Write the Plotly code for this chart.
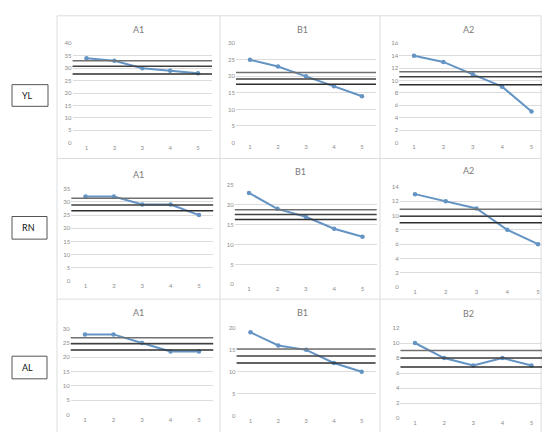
import plotly.graph_objects as go

# ---------------- data ----------------
x_points = [1, 2, 3, 4, 5]
x_tick_labels = ["1", "2", "3", "4", "5"]

row_labels = ["YL", "RN", "AL"]
panel_titles = [["A1", "B1", "A2"],
                ["A1", "B1", "A2"],
                ["A1", "B1", "B2"]]

yl_a1 = [34, 33, 30, 29, 28]
yl_b1 = [25, 23, 20, 17, 14]
yl_a2 = [14, 13, 11, 9, 5]
rn_a1 = [32, 32, 29, 29, 25]
rn_b1 = [23, 19, 17, 14, 12]
rn_a2 = [13, 12, 11, 8, 6]
al_a1 = [28, 28, 25, 22, 22]
al_b1 = [19, 16, 15, 12, 10]
al_b2 = [10, 8, 7, 8, 7]

# three horizontal reference levels per panel
yl_a1_ref = [33.0, 30.8, 27.7]
yl_b1_ref = [21.2, 19.2, 17.6]
yl_a2_ref = [11.4, 10.6, 9.3]
rn_a1_ref = [31.4, 28.8, 26.6]
rn_b1_ref = [18.8, 17.6, 16.3]
rn_a2_ref = [10.9, 9.9, 9.0]
al_a1_ref = [26.8, 24.7, 22.5]
al_b1_ref = [15.2, 13.6, 12.0]
al_b2_ref = [9.0, 8.0, 6.8]

# y-axis maxima and tick steps per panel
y_max = [[40, 30, 16], [35, 25, 14], [30, 20, 12]]
y_step = [[5, 5, 2], [5, 5, 2], [5, 5, 2]]

series = [[yl_a1, yl_b1, yl_a2], [rn_a1, rn_b1, rn_a2], [al_a1, al_b1, al_b2]]
refs = [[yl_a1_ref, yl_b1_ref, yl_a2_ref],
        [rn_a1_ref, rn_b1_ref, rn_a2_ref],
        [al_a1_ref, al_b1_ref, al_b2_ref]]

# ---------------- layout geometry (pixels) ----------------
W, H = 542, 432
# (px of x=1, px of x=5, px of y=0, px of y=max)
geom = [
    [(86.5, 198, 141, 40), (250, 362, 140.7, 40), (414, 531.5, 140.7, 40)],
    [(85.5, 199, 281.7, 187.7), (249, 362.5, 285, 184), (415, 538, 287.7, 186)],
    [(85, 199, 417.3, 330), (250.5, 361.7, 418.3, 329.3), (415, 531.5, 421, 329.3)],
]
title_pos = [[(138, 26), (302, 26), (468, 26)],
             [(138, 173), (300, 170), (468, 169)],
             [(138, 314), (302, 314), (468, 315)]]
col_edges = [57, 220, 380, 541]
row_edges = [12, 157, 300, 440]
label_boxes = [(12, 48, 82, 104), (12, 47, 216, 239), (12, 47, 358, 381)]

FONT = "Lato, 'Open Sans', sans-serif"
BLUE = "#6494c4"
GRID = "#dcdcdc"
TICK = "#8c8c8c"
REF_COLORS = ["#707070", "#404040", "#2e2e2e"]

fig = go.Figure()
layout = dict(width=W, height=H, margin=dict(l=0, r=0, t=0, b=0),
              paper_bgcolor="white", plot_bgcolor="white",
              showlegend=False, shapes=[], annotations=[])

k = 0
for r in range(3):
    for c in range(3):
        k += 1
        xa = "x" if k == 1 else f"x{k}"
        ya = "y" if k == 1 else f"y{k}"
        xkey = "xaxis" if k == 1 else f"xaxis{k}"
        ykey = "yaxis" if k == 1 else f"yaxis{k}"
        p1, p5, yb, yt, = geom[r][c]
        s = (p5 - p1) / 4.0
        x_lo_px = p1 - 0.5 * s
        x_hi_px = min(p5 + 0.5 * s, W)
        x_hi_val = 1 + (x_hi_px - p1) / s
        layout[xkey] = dict(domain=[x_lo_px / W, x_hi_px / W], range=[0.5, x_hi_val],
                            anchor=ya, tickmode="array", tickvals=x_points,
                            ticktext=x_tick_labels, showgrid=False, zeroline=False,
                            showline=False, ticks="",
                            tickfont=dict(size=6, color=TICK, family=FONT))
        layout[ykey] = dict(domain=[1 - yb / H, 1 - yt / H], range=[0, y_max[r][c]],
                            anchor=xa, dtick=y_step[r][c], tick0=0,
                            showgrid=True, gridcolor=GRID, gridwidth=1,
                            zeroline=False, showline=False, ticks="",
                            tickfont=dict(size=6, color=TICK, family=FONT))
        # reference lines
        for i, v in enumerate(refs[r][c]):
            layout["shapes"].append(dict(type="line", xref=f"{xa} domain", yref=ya,
                                         x0=0, x1=1, y0=v, y1=v,
                                         line=dict(color=REF_COLORS[i], width=1.5)))
        fig.add_trace(go.Scatter(x=x_points, y=series[r][c], xaxis=xa, yaxis=ya,
                                 mode="lines+markers",
                                 line=dict(color=BLUE, width=2),
                                 marker=dict(color=BLUE, size=4.5)))
        tx, ty = title_pos[r][c]
        layout["annotations"].append(dict(text=panel_titles[r][c], xref="paper", yref="paper",
                                          x=tx / W, y=1 - ty / H, showarrow=False,
                                          xanchor="center", yanchor="middle",
                                          font=dict(size=9, color="#7a7a7a", family=FONT)))

# panel borders
for xe in col_edges:
    layout["shapes"].append(dict(type="line", xref="paper", yref="paper",
                                 x0=xe / W, x1=xe / W, y0=1 - row_edges[-1] / H, y1=1 - row_edges[0] / H,
                                 line=dict(color=GRID, width=1), layer="below"))
for ye in row_edges[:-1]:
    layout["shapes"].append(dict(type="line", xref="paper", yref="paper",
                                 x0=col_edges[0] / W, x1=col_edges[-1] / W, y0=1 - ye / H, y1=1 - ye / H,
                                 line=dict(color=GRID, width=1), layer="below"))

# row label boxes
for (bx0, bx1, by0, by1), lab in zip(label_boxes, row_labels):
    layout["shapes"].append(dict(type="rect", xref="paper", yref="paper",
                                 x0=bx0 / W, x1=bx1 / W, y0=1 - by1 / H, y1=1 - by0 / H,
                                 line=dict(color="#555555", width=1)))
    layout["annotations"].append(dict(text=lab, xref="paper", yref="paper",
                                      x=(bx0 + 8) / W, y=1 - (by0 + by1) / 2 / H,
                                      showarrow=False, xanchor="left", yanchor="middle",
                                      font=dict(size=9, color="#111111", family=FONT)))

fig.update_layout(**layout)
fig.write_html("out.html",
               config={"displayModeBar": False, "staticPlot": True},
               post_script="document.body.style.margin='0';document.body.style.overflow='hidden';")
